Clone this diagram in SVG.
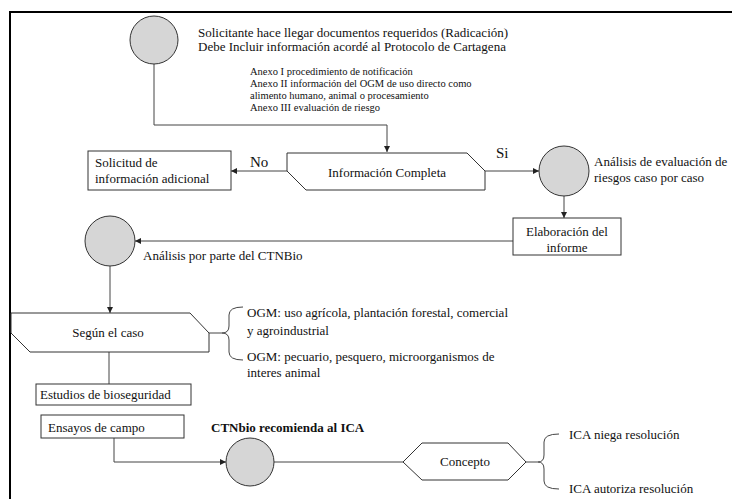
<svg xmlns="http://www.w3.org/2000/svg" width="732" height="499" viewBox="0 0 732 499">
<style>
.t{font-size:13px;}
.s{font-size:10.5px;}
.b{font-size:15px;}
.node{fill:#fff;stroke:#333;stroke-width:1;}
.circ{fill:#d6d6d6;stroke:#333;stroke-width:1;}
.con path{fill:none;stroke:#444;stroke-width:1;}
</style>
<defs>
<marker id="arr" viewBox="0 0 8 8" refX="8" refY="4" markerWidth="6" markerHeight="6" orient="auto" markerUnits="userSpaceOnUse">
<path d="M0,0 L8,4 L0,8 Z" fill="#222"/>
</marker>
</defs>
<rect width="732" height="499" fill="#fff"/>
<g id="frame"><path d="M10,499 L10,12 L732,12" fill="none" stroke="#000" stroke-width="2"/></g>

<g class="con" id="connectors">
<path d="M154,64 L154,125 L387,125 L387,152" marker-end="url(#arr)"/>
<path d="M287,171 L231,171" marker-end="url(#arr)"/>
<path d="M485,171 L539,171" marker-end="url(#arr)"/>
<path d="M564,196 L564,218" marker-end="url(#arr)"/>
<path d="M513,241 L135,241" marker-end="url(#arr)"/>
<path d="M110,266 L110,313" marker-end="url(#arr)"/>
<path d="M109,352 L109,384"/>
<path d="M209,333 L222,333"/>
<path d="M243,307 Q229,307 229,315 L229,326 Q229,333 222,333 Q229,333 229,340 L229,352 Q229,360 243,360"/>
<path d="M114,438 L114,462 L226,462" marker-end="url(#arr)"/>
<path d="M274,462 L403,462"/>
<path d="M526,462 L538,462"/>
<path d="M559,434 Q544,434 544,442 L544,455 Q544,462 538,462 Q544,462 544,469 L544,481 Q544,489 559,489"/>
</g>

<g font-family="'Liberation Serif', 'DejaVu Serif', serif" fill="#111">
<g id="n-solicitante">
<circle class="circ" cx="154" cy="40" r="24"/>
<text class="t" x="198" y="37">Solicitante hace  llegar documentos requeridos (Radicación)</text>
<text class="t" x="198" y="51">Debe Incluir información acordé al Protocolo de Cartagena</text>
</g>
<g id="n-anexos">
<text class="s" x="250" y="75">Anexo I procedimiento  de notificación</text>
<text class="s" x="250" y="87">Anexo II información  del OGM de uso directo como</text>
<text class="s" x="250" y="99">alimento  humano, animal  o procesamiento</text>
<text class="s" x="250" y="111">Anexo III evaluación  de riesgo</text>
</g>
<g id="n-info">
<path class="node" d="M287,153 L467,153 L485,171 L485,190 L306,190 L287,171 Z"/>
<text class="t" x="387" y="177" text-anchor="middle">Información Completa</text>
</g>
<g id="n-solicitud">
<rect class="node" x="88" y="151" width="143" height="39"/>
<text class="t" x="95" y="167">Solicitud de</text>
<text class="t" x="95" y="183">información adicional</text>
</g>
<g id="l-no"><text class="b" x="250" y="167">No</text></g>
<g id="l-si"><text class="b" x="496" y="158">Si</text></g>
<g id="n-analisis-riesgo">
<circle class="circ" cx="564" cy="171" r="25"/>
<text class="t" x="594" y="166">Análisis de evaluación de</text>
<text class="t" x="594" y="182">riesgos caso por caso</text>
</g>
<g id="n-elaboracion">
<rect class="node" x="513" y="218" width="108" height="37"/>
<text class="t" x="567" y="236" text-anchor="middle">Elaboración del</text>
<text class="t" x="567" y="252" text-anchor="middle">informe</text>
</g>
<g id="n-ctnbio">
<circle class="circ" cx="110" cy="241" r="25"/>
<text class="t" x="143" y="260">Análisis por parte del CTNBio</text>
</g>
<g id="n-segun">
<path class="node" d="M11,313 L190,313 L209,333 L209,352 L30,352 L11,333 Z"/>
<text class="t" x="108" y="337" text-anchor="middle">Según el caso</text>
</g>
<g id="n-ogm1">
<text class="t" x="247" y="317">OGM: uso agrícola, plantación forestal, comercial</text>
<text class="t" x="247" y="335">y agroindustrial</text>
</g>
<g id="n-ogm2">
<text class="t" x="247" y="361">OGM: pecuario, pesquero, microorganismos de</text>
<text class="t" x="247" y="377">interes animal</text>
</g>
<g id="n-estudios">
<rect class="node" x="36" y="384" width="155" height="21"/>
<text class="t" x="40" y="399">Estudios de bioseguridad</text>
</g>
<g id="n-ensayos">
<rect class="node" x="41" y="415" width="143" height="23"/>
<text class="t" x="48" y="432">Ensayos de campo</text>
</g>
<g id="n-recomienda">
<circle class="circ" cx="250" cy="462" r="24"/>
<text class="t" x="211" y="432" font-weight="bold">CTNbio recomienda al ICA</text>
</g>
<g id="n-concepto">
<path class="node" d="M403,462 L422,443 L508,443 L526,462 L508,480 L422,480 Z"/>
<text class="t" x="465" y="466" text-anchor="middle">Concepto</text>
</g>
<g id="n-niega"><text class="t" x="569" y="439">ICA niega resolución</text></g>
<g id="n-autoriza"><text class="t" x="569" y="493">ICA autoriza resolución</text></g>
</g>
</svg>
